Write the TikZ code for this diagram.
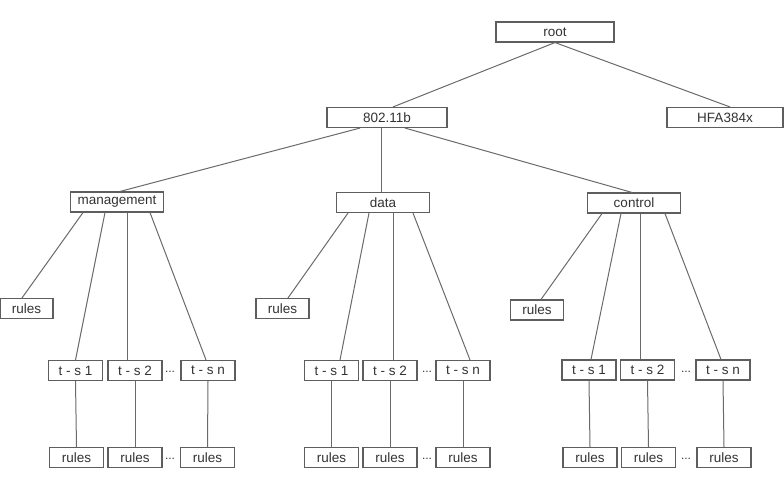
\documentclass[tikz,border=0pt]{standalone}
\usepackage{fontspec}
\setmainfont{Liberation Sans}
\definecolor{boxline}{HTML}{5E5E5E}
\definecolor{edgeline}{HTML}{6A6A6A}
\definecolor{labeltext}{HTML}{333333}
\tikzset{
  box/.style={draw=boxline, line width=1.1pt, fill=white, inner sep=0pt,
    minimum height=20pt, text=labeltext, font=\fontsize{13.5}{15}\selectfont},
  widebox/.style={box, minimum width=118pt},
  midbox/.style={box, minimum width=93pt},
  smallbox/.style={box, minimum width=54pt},
  dots/.style={text=labeltext, inner sep=0pt, font=\fontsize{12}{14}\selectfont},
  edge/.style={draw=edgeline, line width=1pt}
}
\begin{document}
\begin{tikzpicture}[x=1pt, y=-1pt]
  \useasboundingbox (0,0) rectangle (784,486);

  % -------------------------
  % top levels
  % -------------------------
  \node[widebox] (root) at (555,32) {root};
  \node[widebox, minimum width=120pt] (wlan) at (387,117.5) {802.11b};
  \node[widebox, minimum width=116pt] (hfa) at (725,117.5) {HFA384x};

  \node[midbox] (mgmt) at (117,202) {management};
  \node[midbox] (data) at (383,202.5) {data};
  \node[midbox] (ctrl) at (634,203) {control};

  \draw[edge] (root.south) -- ([xshift=6pt]wlan.north);
  \draw[edge] (root.south) -- ([xshift=5pt]hfa.north);
  \draw[edge] ([xshift=-27pt]wlan.south) -- ([xshift=3pt]mgmt.north);
  \draw[edge] ([xshift=-6pt]wlan.south) -- ([xshift=-2pt]data.north);
  \draw[edge] ([xshift=18pt]wlan.south) -- ([xshift=-2pt]ctrl.north);

  % -------------------------
  % management
  % -------------------------
  \node[box, minimum width=53pt] (mrules) at (26.5,308.5) {rules};
  \node[smallbox] (mts1) at (75.5,370.5) {t - s 1};
  \node[smallbox] (mts2) at (135,370.5) {t - s 2};
  \node[dots] (mdots) at (170,372) {...};
  \node[smallbox] (mtsn) at (208,370.5) {t - s n};

  \node[smallbox] (mr1) at (76.5,457.5) {rules};
  \node[smallbox] (mr2) at (135,457.5) {rules};
  \node[dots] (mrdots) at (170,459) {...};
  \node[smallbox] (mrn) at (207.5,457.5) {rules};

  \draw[edge] ([xshift=-34pt]mgmt.south) -- ([xshift=-4.5pt]mrules.north);
  \draw[edge] ([xshift=-12pt]mgmt.south) -- (mts1.north);
  \draw[edge] ([xshift=10pt]mgmt.south) -- ([xshift=-8pt]mts2.north);
  \draw[edge] ([xshift=33pt]mgmt.south) -- ([xshift=-2pt]mtsn.north);
  \draw[edge] (mts1.south) -- (mr1.north);
  \draw[edge] (mts2.south) -- (mr2.north);
  \draw[edge] (mtsn.south) -- (mrn.north);

  % -------------------------
  % data
  % -------------------------
  \node[box, minimum width=53pt] (drules) at (282.5,308.5) {rules};
  \node[smallbox] (dts1) at (331.5,370.5) {t - s 1};
  \node[smallbox] (dts2) at (390,370.5) {t - s 2};
  \node[dots] (ddots) at (427,372) {...};
  \node[smallbox] (dtsn) at (463,370.5) {t - s n};

  \node[smallbox] (dr1) at (331.5,457.5) {rules};
  \node[smallbox] (dr2) at (390,457.5) {rules};
  \node[dots] (drdots) at (427,459) {...};
  \node[smallbox] (drn) at (463,457.5) {rules};

  \draw[edge] ([xshift=-35pt]data.south) -- ([xshift=5.5pt]drules.north);
  \draw[edge] ([xshift=-14pt]data.south) -- ([xshift=8.5pt]dts1.north);
  \draw[edge] ([xshift=10pt]data.south) -- ([xshift=3pt]dts2.north);
  \draw[edge] ([xshift=30pt]data.south) -- ([xshift=7pt]dtsn.north);
  \draw[edge] (dts1.south) -- (dr1.north);
  \draw[edge] (dts2.south) -- (dr2.north);
  \draw[edge] (dtsn.south) -- (drn.north);

  % -------------------------
  % control
  % -------------------------
  \node[box, minimum width=53pt] (crules) at (537,310) {rules};
  \node[smallbox] (cts1) at (589,370) {t - s 1};
  \node[smallbox] (cts2) at (647.5,370) {t - s 2};
  \node[dots] (cdots) at (686,372) {...};
  \node[smallbox] (ctsn) at (723,370) {t - s n};

  \node[smallbox] (cr1) at (590,457.5) {rules};
  \node[smallbox] (cr2) at (648.5,457.5) {rules};
  \node[dots] (crdots) at (686,459) {...};
  \node[smallbox] (crn) at (724,457.5) {rules};

  \draw[edge] ([xshift=-32pt]ctrl.south) -- ([xshift=4pt]crules.north);
  \draw[edge] ([xshift=-13pt]ctrl.south) -- ([xshift=2pt]cts1.north);
  \draw[edge] ([xshift=6pt]ctrl.south) -- ([xshift=-7.5pt]cts2.north);
  \draw[edge] ([xshift=31pt]ctrl.south) -- ([xshift=-2pt]ctsn.north);
  \draw[edge] (cts1.south) -- (cr1.north);
  \draw[edge] (cts2.south) -- (cr2.north);
  \draw[edge] (ctsn.south) -- (crn.north);

\end{tikzpicture}
\end{document}
